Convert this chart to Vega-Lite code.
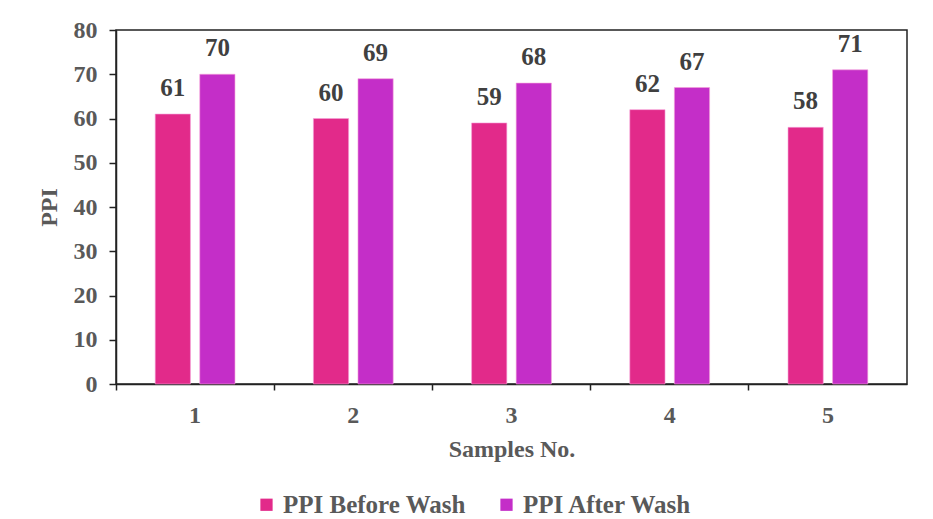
{
  "$schema": "https://vega.github.io/schema/vega-lite/v6.json",
  "autosize": {"type": "none"},
  "padding": {"left": 116, "top": 30, "right": 26, "bottom": 135},
  "width": 791,
  "height": 354,
  "background": "white",
  "config": {
    "view": {"stroke": "#222222", "strokeWidth": 1.5},
    "font": "Liberation Serif"
  },
  "data": {
    "values": [
      {"sample": "1", "series": "PPI Before Wash", "ppi": 61},
      {"sample": "1", "series": "PPI After Wash", "ppi": 70},
      {"sample": "2", "series": "PPI Before Wash", "ppi": 60},
      {"sample": "2", "series": "PPI After Wash", "ppi": 69},
      {"sample": "3", "series": "PPI Before Wash", "ppi": 59},
      {"sample": "3", "series": "PPI After Wash", "ppi": 68},
      {"sample": "4", "series": "PPI Before Wash", "ppi": 62},
      {"sample": "4", "series": "PPI After Wash", "ppi": 67},
      {"sample": "5", "series": "PPI Before Wash", "ppi": 58},
      {"sample": "5", "series": "PPI After Wash", "ppi": 71}
    ]
  },
  "encoding": {
    "x": {
      "field": "sample", "type": "nominal",
      "scale": {"paddingInner": 0, "paddingOuter": 0},
      "axis": {
        "title": "Samples No.", "labelAngle": 0, "bandPosition": 0,
        "domainColor": "#222222", "domainWidth": 1.5, "tickColor": "#222222", "tickWidth": 1.5, "tickSize": 6,
        "labelFont": "Liberation Serif", "labelFontWeight": "bold", "labelFontSize": 24, "labelColor": "#595959",
        "labelPadding": 13,
        "titleFont": "Liberation Serif", "titleFontWeight": "bold", "titleFontSize": 24, "titleColor": "#595959",
        "titlePadding": 10, "grid": false
      }
    },
    "xOffset": {
      "field": "series", "type": "nominal", "sort": ["PPI Before Wash", "PPI After Wash"],
      "scale": {"paddingInner": 0.21, "paddingOuter": 0.88}
    },
    "y": {
      "field": "ppi", "type": "quantitative",
      "scale": {"domain": [0, 80]},
      "axis": {
        "title": "PPI", "values": [0,10,20,30,40,50,60,70,80], "grid": false, "labelOverlap": false,
        "domainColor": "#222222", "domainWidth": 1.5, "tickColor": "#222222", "tickWidth": 1.5, "tickSize": 7,
        "labelFont": "Liberation Serif", "labelFontWeight": "bold", "labelFontSize": 24, "labelColor": "#595959",
        "labelPadding": 12,
        "titleFont": "Liberation Serif", "titleFontWeight": "bold", "titleFontSize": 24, "titleColor": "#595959",
        "titlePadding": 12
      }
    }
  },
  "layer": [
    {
      "mark": {"type": "bar", "stroke": "#f5a0d8", "strokeWidth": 0.6},
      "encoding": {
        "color": {
          "field": "series", "type": "nominal",
          "sort": ["PPI Before Wash", "PPI After Wash"],
          "scale": {"domain": ["PPI Before Wash", "PPI After Wash"], "range": ["#E22A8A", "#C42EC8"]},
          "legend": {
            "title": null, "orient": "none", "legendX": 138, "legendY": 462, "direction": "horizontal",
            "symbolType": "square", "symbolSize": 150, "symbolStrokeWidth": 0,
            "labelFont": "Liberation Serif", "labelFontWeight": "bold", "labelFontSize": 25, "labelColor": "#595959",
            "labelLimit": 0, "columnPadding": 28, "labelOffset": 4
          }
        }
      }
    },
    {
      "mark": {"type": "text", "dy": -13, "baseline": "bottom", "font": "Liberation Serif", "fontWeight": "bold", "fontSize": 25, "color": "#404040"},
      "encoding": {
        "text": {"field": "ppi", "type": "quantitative"}
      }
    }
  ]
}
